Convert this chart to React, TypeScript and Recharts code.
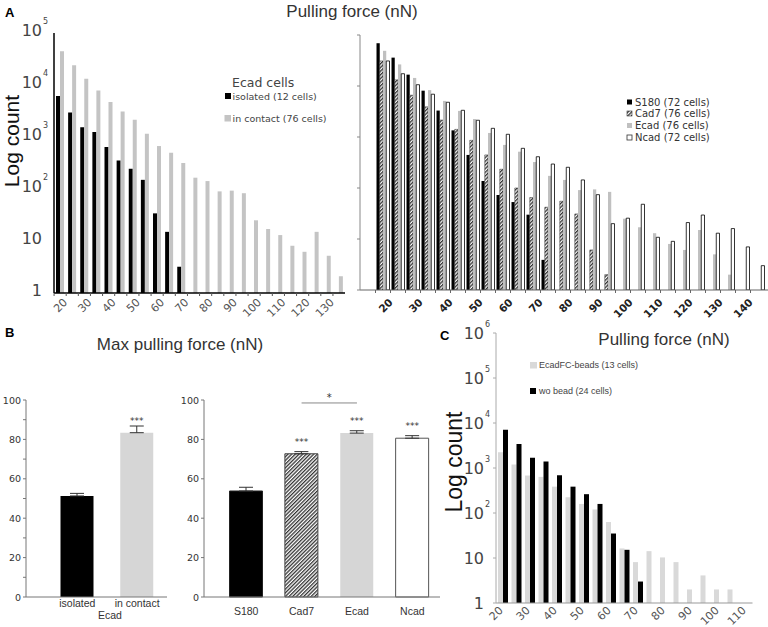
import React from "react";
import {
  BarChart,
  Bar,
  Cell,
  XAxis,
  YAxis,
  ErrorBar,
  LabelList,
  ReferenceLine
} from "recharts";

const FONT = "'DejaVu Sans', Verdana, sans-serif";
const SANS = "'Liberation Sans', Arial, sans-serif";

// Panel A, left: Ecad cells, isolated vs in contact
const binsA = [20, 25, 30, 35, 40, 45, 50, 55, 60, 65, 70, 75, 80, 85, 90, 95, 100, 105, 110, 115, 120, 125, 130, 135];
const isolatedCounts = [6150, 2960, 1540, 1250, 640, 355, 245, 150, 34, 15, 3.2];
const contactCounts = [44600, 24000, 13200, 7800, 4700, 3080, 2150, 1160, 670, 500, 316, 165, 142, 90, 93, 83, 25, 17, 13, 8.1, 6.2, 15, 5.2, 2.1];

// Panel A, right: four cell lines
const binsAll = [20, 25, 30, 35, 40, 45, 50, 55, 60, 65, 70, 75, 80, 85, 90, 95, 100, 105, 110, 115, 120, 125, 130, 135, 140, 145];
const s180Counts = [69000, 36000, 16700, 8100, 3300, 1350, 445, 137, 73, 53, 30, 3.9];
const cad7Counts = [31000, 13200, 6600, 3900, 2150, 1410, 860, 445, 233, 100, 65, 42, 55, 31, 6.1, 2.0];
const ecadCounts = [49000, 26500, 14400, 8300, 5100, 3250, 2250, 1200, 700, 515, 323, 173, 144, 91, 94, 84, 25, 17, 13, 8, 6.1, 15, 5, 2];
const ncadCounts = [31000, 17400, 10600, 6900, 4800, 3340, 2130, 1480, 1130, 600, 410, 295, 255, 144, 74, 20, 25.6, 48, 10.8, 9, 21, 29.5, 13, 16, 7, 3];

// Panel B: max pulling force (nN)
const ecadGroups = ["isolated", "in contact"];
const ecadMeans = [51.3, 83.4];
const ecadErrors = [1.3, 3.4];
const ecadSig = ["", "***"];

const lineGroups = ["S180", "Cad7", "Ecad", "Ncad"];
const lineMeans = [53.8, 72.7, 83.2, 80.6];
const lineErrors = [1.9, 1.1, 1.2, 1.3];
const lineSig = ["", "***", "***", "***"];

// Panel C: beads vs no bead
const binsC = [20, 25, 30, 35, 40, 45, 50, 55, 60, 65, 70, 75, 80, 85, 90, 95, 100, 105, 110];
const beadCounts = [2250, 1200, 680, 635, 385, 224, 159, 120, 63, 16.3, 8.1, 14.2, 10.3, 8.1, 2.0, 4.1, 2.0, 2.0];
const woBeadCounts = [7100, 3400, 1700, 1390, 690, 385, 262, 159, 35, 15.2, 3.0];

const logTicks5 = [1, 10, 100, 1000, 10000, 100000];
const logTicks6 = [1, 10, 100, 1000, 10000, 100000, 1000000];

// bar looks for panel B
const ecadStyles = [
  { fill: "#000", stroke: "none" },
  { fill: "#d6d6d6", stroke: "none" }
];
const lineStyles = [
  { fill: "#000", stroke: "#222" },
  { fill: "url(#hatchB)", stroke: "#444" },
  { fill: "#d6d6d6", stroke: "none" },
  { fill: "#fff", stroke: "#555" }
];

const tableALeft = binsA.map((f, i) => ({
  force: f,
  isolated: isolatedCounts[i] ?? null,
  contact: contactCounts[i] ?? null
}));

const tableARight = binsAll.map((f, i) => ({
  force: f,
  s180: s180Counts[i] ?? null,
  cad7: cad7Counts[i] ?? null,
  ecad: ecadCounts[i] ?? null,
  ncad: ncadCounts[i] ?? null
}));

const tableBLeft = ecadGroups.map((g, i) => ({
  name: g,
  mean: ecadMeans[i],
  err: [0, ecadErrors[i]],
  sig: ecadSig[i]
}));

const tableBRight = lineGroups.map((g, i) => ({
  name: g,
  mean: lineMeans[i],
  err: [0, lineErrors[i]],
  sig: lineSig[i]
}));

const tableC = binsC.map((f, i) => ({
  force: f,
  beads: beadCounts[i] ?? null,
  wo: woBeadCounts[i] ?? null
}));

function LogTick(props: any) {
  const { x, y, payload, mark, color, labels, dy } = props;
  const exp = Math.round(Math.log10(payload.value));
  const base = exp === 0 ? "1" : "10";
  const ty = y + (dy || 0);
  return (
    <g>
      {mark ? <line x1={x - mark} x2={x} y1={y} y2={y} stroke={color} /> : null}
      {labels ? (
        <>
          <text x={x - 12} y={ty} textAnchor="end" dominantBaseline="central" fontFamily={FONT} fontSize={16} fill="#444">
            {base}
          </text>
          {exp >= 2 ? (
            <text x={x - 11} y={ty - 9} dominantBaseline="central" fontFamily={FONT} fontSize={8} fill="#444">
              {exp}
            </text>
          ) : null}
        </>
      ) : null}
    </g>
  );
}

function ForceTick(props: any) {
  const { x, y, payload, dx, dy, bold, mark, color } = props;
  const v = Number(payload.value);
  const tx = x + dx;
  const ty = y + dy;
  return (
    <g>
      {mark != null ? <line x1={x + mark} x2={x + mark} y1={y} y2={y + 3} stroke={color} /> : null}
      {v % 10 === 0 ? (
        <text
          x={tx}
          y={ty}
          transform={`rotate(-45 ${tx} ${ty})`}
          textAnchor="end"
          fontFamily={FONT}
          fontSize={bold ? 10.5 : 11}
          fontWeight={bold ? "bold" : "normal"}
          fill={bold ? "#222" : "#555"}
        >
          {v}
        </text>
      ) : null}
    </g>
  );
}

function ValueTick(props: any) {
  const { x, y, payload, labelEvery } = props;
  const v = Number(payload.value);
  return (
    <g>
      <line x1={x - 3} x2={x} y1={y} y2={y} stroke="#777" />
      {v % labelEvery === 0 ? (
        <text x={x - 5} y={y} textAnchor="end" dominantBaseline="central" fontFamily={FONT} fontSize={9.5} fill="#333">
          {v}
        </text>
      ) : null}
    </g>
  );
}

function GroupTick(props: any) {
  const { x, y, payload, dy } = props;
  return (
    <text x={x} y={y + dy} textAnchor="middle" dominantBaseline="central" fontFamily={SANS} fontSize={10.5} fill="#333">
      {payload.value}
    </text>
  );
}

function SigLabel(props: any) {
  const { x, y, width, value } = props;
  if (!value) return null;
  return (
    <text x={x + width / 2} y={y - 12} textAnchor="middle" dominantBaseline="central" fontFamily={FONT} fontSize={9} fill="#333">
      {value}
    </text>
  );
}

function Hatch({ id }: { id: string }) {
  return (
    <defs>
      <pattern id={id} patternUnits="userSpaceOnUse" width="2.6" height="2.6" patternTransform="rotate(45)">
        <rect width="2.6" height="2.6" fill="#fff" />
        <rect width="1.3" height="2.6" fill="#333" />
      </pattern>
    </defs>
  );
}

export default function App() {
  return (
    <div style={{ position: "fixed", left: 0, top: 0, width: 768, height: 627, overflow: "hidden", background: "#fff" }}>
      {/* A left */}
      <div style={{ position: "absolute", left: 0, top: 0 }}>
        <BarChart width={360} height={340} data={tableALeft} margin={{ top: 33, right: 15, left: 0, bottom: 0 }} barGap={0}>
          <XAxis
            dataKey="force"
            height={47}
            interval={0}
            tickSize={0}
            tickMargin={0}
            tickLine={false}
            axisLine={{ stroke: "#000", strokeWidth: 1.5 }}
            tick={(p: any) => <ForceTick {...p} dx={8} dy={10} mark={-6} color="#555" />}
          />
          <YAxis
            scale="log"
            domain={[1, 100000]}
            ticks={logTicks5}
            allowDataOverflow
            width={54}
            interval={0}
            tickSize={0}
            tickMargin={0}
            tickLine={false}
            axisLine={{ stroke: "#000", strokeWidth: 1.5 }}
            tick={(p: any) => <LogTick {...p} labels dy={-3} />}
          />
          <Bar dataKey="isolated" fill="#000" barSize={4} isAnimationActive={false} />
          <Bar dataKey="contact" fill="#c4c4c4" barSize={4} isAnimationActive={false} />
        </BarChart>
      </div>

      {/* A right */}
      <div style={{ position: "absolute", left: 300, top: 0 }}>
        <BarChart width={480} height={340} data={tableARight} margin={{ top: 35, right: 0, left: 0, bottom: 0 }} barGap={0}>
          <Hatch id="hatchA" />
          <XAxis
            dataKey="force"
            height={50}
            interval={0}
            tickSize={0}
            tickMargin={0}
            tickLine={false}
            padding={{ left: 15.5, right: 14.5 }}
            axisLine={{ stroke: "#666" }}
            tick={(p: any) => <ForceTick {...p} dx={10.5} dy={13} bold mark={-7.5} color="#666" />}
          />
          <YAxis
            scale="log"
            domain={[1, 100000]}
            ticks={logTicks5}
            allowDataOverflow
            width={60}
            interval={0}
            tickSize={0}
            tickMargin={0}
            tickLine={false}
            axisLine={{ stroke: "#888" }}
            tick={(p: any) => <LogTick {...p} mark={3} color="#888" />}
          />
          <Bar dataKey="s180" fill="#000" barSize={3.25} isAnimationActive={false} />
          <Bar dataKey="cad7" fill="url(#hatchA)" stroke="#333" strokeWidth={0.5} barSize={3.25} isAnimationActive={false} />
          <Bar dataKey="ecad" fill="#c0c0c0" barSize={3.25} isAnimationActive={false} />
          <Bar dataKey="ncad" fill="#fff" stroke="#000" strokeWidth={0.8} barSize={3.25} isAnimationActive={false} />
        </BarChart>
      </div>

      {/* B left */}
      <div style={{ position: "absolute", left: 0, top: 380 }}>
        <BarChart width={180} height={240} data={tableBLeft} margin={{ top: 20, right: 13, left: 0, bottom: 0 }}>
          <XAxis
            dataKey="name"
            height={23}
            interval={0}
            tickSize={0}
            tickMargin={0}
            tickLine={false}
            padding={{ left: 21.5, right: 0 }}
            axisLine={{ stroke: "#777" }}
            tick={(p: any) => <GroupTick {...p} dy={6} />}
          />
          <YAxis
            domain={[0, 100]}
            ticks={[0, 10, 20, 30, 40, 50, 60, 70, 80, 90, 100]}
            width={26}
            interval={0}
            tickSize={0}
            tickMargin={0}
            tickLine={false}
            axisLine={{ stroke: "#777" }}
            tick={(p: any) => <ValueTick {...p} labelEvery={20} />}
          />
          <Bar dataKey="mean" barSize={33} isAnimationActive={false}>
            {tableBLeft.map((d, i) => (
              <Cell key={d.name} fill={ecadStyles[i].fill} stroke={ecadStyles[i].stroke} />
            ))}
            <ErrorBar dataKey="err" width={7} stroke="#333" strokeWidth={1} direction="y" />
            <LabelList dataKey="sig" content={SigLabel} />
          </Bar>
        </BarChart>
      </div>

      {/* B right */}
      <div style={{ position: "absolute", left: 170, top: 380 }}>
        <BarChart width={280} height={240} data={tableBRight} margin={{ top: 20, right: 10, left: 0, bottom: 0 }}>
          <Hatch id="hatchB" />
          <XAxis
            dataKey="name"
            height={23}
            interval={0}
            tickSize={0}
            tickMargin={0}
            tickLine={false}
            padding={{ left: 14.5, right: 0 }}
            axisLine={{ stroke: "#777" }}
            tick={(p: any) => <GroupTick {...p} dy={14} />}
          />
          <YAxis
            domain={[0, 100]}
            ticks={[0, 20, 40, 60, 80, 100]}
            width={34}
            interval={0}
            tickSize={0}
            tickMargin={0}
            tickLine={false}
            axisLine={{ stroke: "#777" }}
            tick={(p: any) => <ValueTick {...p} labelEvery={20} />}
          />
          <ReferenceLine
            segment={[{ x: "Cad7", y: 98.5 }, { x: "Ecad", y: 98.5 }]}
            stroke="#888"
            label={{ value: "*", position: "top", offset: 2, fill: "#333", fontSize: 10, fontFamily: FONT }}
          />
          <Bar dataKey="mean" barSize={33} isAnimationActive={false}>
            {tableBRight.map((d, i) => (
              <Cell key={d.name} fill={lineStyles[i].fill} stroke={lineStyles[i].stroke} strokeWidth={1} />
            ))}
            <ErrorBar dataKey="err" width={7} stroke="#333" strokeWidth={1} direction="y" />
            <LabelList dataKey="sig" content={SigLabel} />
          </Bar>
        </BarChart>
      </div>

      {/* C */}
      <div style={{ position: "absolute", left: 440, top: 320 }}>
        <BarChart width={328} height={307} data={tableC} margin={{ top: 13, right: 15.5, left: 0, bottom: 0 }} barGap={0}>
          <XAxis
            dataKey="force"
            height={24}
            interval={0}
            tickSize={0}
            tickMargin={0}
            tickLine={false}
            axisLine={{ stroke: "#999" }}
            tick={(p: any) => <ForceTick {...p} dx={1} dy={8} />}
          />
          <YAxis
            scale="log"
            domain={[1, 1000000]}
            ticks={logTicks6}
            allowDataOverflow
            width={56}
            interval={0}
            tickSize={0}
            tickMargin={0}
            tickLine={false}
            axisLine={{ stroke: "#aaa" }}
            tick={(p: any) => <LogTick {...p} labels mark={3} color="#aaa" dy={0} />}
          />
          <Bar dataKey="beads" fill="#d9d9d9" barSize={5} isAnimationActive={false} />
          <Bar dataKey="wo" fill="#000" barSize={5} isAnimationActive={false} />
        </BarChart>
      </div>

      {/* free text, legends */}
      <svg width={768} height={627} style={{ position: "absolute", left: 0, top: 0, pointerEvents: "none" }}>
        <Hatch id="hatchL" />
        <text x={5} y={17} fontFamily={SANS} fontWeight="bold" fontSize={13} fill="#000">A</text>
        <text x={352} y={17} textAnchor="middle" fontFamily={SANS} fontSize={17} fill="#333">Pulling force (nN)</text>
        <text x={19} y={141} transform="rotate(-90 19 141)" textAnchor="middle" fontFamily={SANS} fontSize={21} fill="#111">Log count</text>

        <text x={232} y={82} dominantBaseline="central" fontFamily={FONT} fontSize={12.5} fill="#444">Ecad cells</text>
        <rect x={225} y={93} width={6} height={6} fill="#000" />
        <text x={232.5} y={96} dominantBaseline="central" fontFamily={FONT} fontSize={9.5} fill="#444">isolated (12 cells)</text>
        <rect x={224.5} y={115} width={6.5} height={6.5} fill="#c4c4c4" />
        <text x={232.5} y={118} dominantBaseline="central" fontFamily={FONT} fontSize={9.5} fill="#444">in contact (76 cells)</text>

        <rect x={627} y={99.5} width={5} height={5} fill="#000" />
        <text x={635} y={102} dominantBaseline="central" fontFamily={FONT} fontSize={10} fill="#333">S180 (72 cells)</text>
        <rect x={627} y={111} width={5} height={5} fill="url(#hatchL)" stroke="#333" strokeWidth={0.6} />
        <text x={635} y={113.5} dominantBaseline="central" fontFamily={FONT} fontSize={10} fill="#333">Cad7 (76 cells)</text>
        <rect x={627} y={123} width={5} height={5} fill="#c0c0c0" />
        <text x={635} y={125.5} dominantBaseline="central" fontFamily={FONT} fontSize={10} fill="#333">Ecad (76 cells)</text>
        <rect x={627} y={135} width={5} height={5} fill="#fff" stroke="#333" strokeWidth={0.8} />
        <text x={635} y={137.5} dominantBaseline="central" fontFamily={FONT} fontSize={10} fill="#333">Ncad (72 cells)</text>

        <text x={5} y={337} fontFamily={SANS} fontWeight="bold" fontSize={13} fill="#000">B</text>
        <text x={180} y={349.5} textAnchor="middle" fontFamily={SANS} fontSize={17} fill="#333">Max pulling force (nN)</text>
        <text x={110} y={615} textAnchor="middle" dominantBaseline="central" fontFamily={SANS} fontSize={10.5} fill="#333">Ecad</text>

        <text x={440} y={340} fontFamily={SANS} fontWeight="bold" fontSize={13} fill="#000">C</text>
        <text x={664} y={345} textAnchor="middle" fontFamily={SANS} fontSize={17} fill="#333">Pulling force (nN)</text>
        <text
          x={462}
          y={462}
          transform="rotate(-90 462 462)"
          textAnchor="middle"
          fontFamily={SANS}
          fontSize={23}
          fill="#111"
          stroke="#fff"
          strokeWidth={5}
          paintOrder="stroke"
        >
          Log count
        </text>
        <rect x={530} y={362} width={7} height={6.5} fill="#d9d9d9" />
        <text x={539} y={365} dominantBaseline="central" fontFamily={SANS} fontSize={9} fill="#444">EcadFC-beads (13 cells)</text>
        <rect x={530} y={388} width={6} height={6} fill="#000" />
        <text x={539} y={391} dominantBaseline="central" fontFamily={SANS} fontSize={9} fill="#444">wo bead (24 cells)</text>
      </svg>
    </div>
  );
}
